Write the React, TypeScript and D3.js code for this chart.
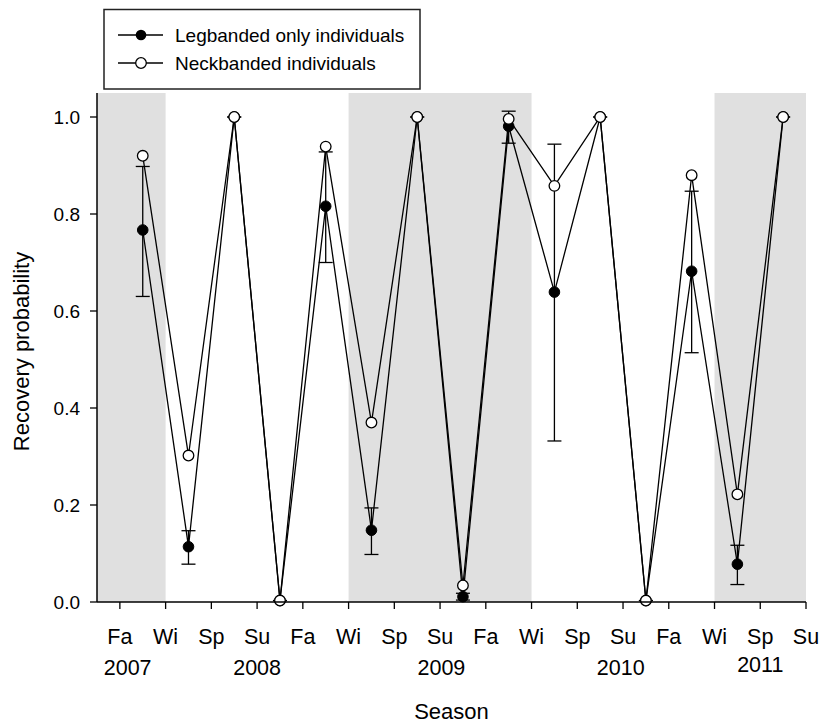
import React from "react";
import * as d3 from "d3";

const seasonLabels = ["Fa", "Wi", "Sp", "Su", "Fa", "Wi", "Sp", "Su", "Fa", "Wi", "Sp", "Su", "Fa", "Wi", "Sp", "Su"];
const yearLabels = ["2007", "2008", "2009", "2010", "2011"];
const yearPositions = [1.17, 4.0, 8.03, 11.95, 15.0];
const yearOffsets = [0, 0, 0, 0, -3];
const shadedBands: [number, number][] = [[0.5, 2], [6, 10], [14, 16]];

const pointX = [1.5, 2.5, 3.5, 4.5, 5.5, 6.5, 7.5, 8.5, 9.5, 10.5, 11.5, 12.5, 13.5, 14.5, 15.5];
const legbanded = [0.767, 0.114, 1.0, 0.003, 0.816, 0.148, 1.0, 0.011, 0.981, 0.639, 1.0, 0.003, 0.682, 0.078, 1.0];
const legLower = [0.63, 0.078, 1.0, 0.003, 0.70, 0.098, 1.0, 0.004, 0.946, 0.332, 1.0, 0.003, 0.514, 0.036, 1.0];
const legUpper = [0.898, 0.147, 1.0, 0.003, 0.928, 0.194, 1.0, 0.018, 1.012, 0.944, 1.0, 0.003, 0.847, 0.117, 1.0];
const neckbanded = [0.92, 0.302, 1.0, 0.003, 0.939, 0.37, 1.0, 0.034, 0.996, 0.858, 1.0, 0.003, 0.88, 0.222, 1.0];
const yTicks = [0, 0.2, 0.4, 0.6, 0.8, 1.0];

const FONT = "'Liberation Sans', Arial, Helvetica, sans-serif";

export default function App() {
  const left = 97, right = 806, top = 93, bottom = 602;
  const x = d3.scaleLinear().domain([0.5, 16]).range([left, right]);
  const y = d3.scaleLinear().domain([0, 1]).range([602, 117]);
  const yTop = y.invert(top);

  const line = d3.line<number>().x((_, i) => x(pointX[i])).y((d) => y(d));
  const capW = 7;
  const r = 5.3;

  return (
    <svg width={824} height={725} style={{ position: "absolute", left: 0, top: 0, background: "#fff" }} fontFamily={FONT}>
      {shadedBands.map(([a, b], i) => (
        <rect key={i} x={x(a)} y={y(yTop)} width={x(b) - x(a)} height={y(0) - y(yTop)} fill="#e0e0e0" />
      ))}

      {/* lines */}
      <path d={line(legbanded) || ""} fill="none" stroke="#000" strokeWidth={1.3} />
      <path d={line(neckbanded) || ""} fill="none" stroke="#000" strokeWidth={1.3} />

      {/* error bars */}
      {pointX.map((px, i) => (
        <g key={i} stroke="#000" strokeWidth={1.3}>
          <line x1={x(px)} x2={x(px)} y1={y(legLower[i])} y2={y(legUpper[i])} />
          <line x1={x(px) - capW} x2={x(px) + capW} y1={y(legLower[i])} y2={y(legLower[i])} />
          <line x1={x(px) - capW} x2={x(px) + capW} y1={y(legUpper[i])} y2={y(legUpper[i])} />
        </g>
      ))}

      {legbanded.map((v, i) => (
        <circle key={i} cx={x(pointX[i])} cy={y(v)} r={r} fill="#000" stroke="#000" strokeWidth={1} />
      ))}
      {neckbanded.map((v, i) => (
        <circle key={i} cx={x(pointX[i])} cy={y(v)} r={r} fill="#fff" stroke="#000" strokeWidth={1.3} />
      ))}

      {/* axes */}
      <line x1={left} x2={left} y1={top} y2={bottom} stroke="#000" strokeWidth={1.5} />
      <line x1={left} x2={right} y1={bottom} y2={bottom} stroke="#000" strokeWidth={1.5} />
      {yTicks.map((t) => (
        <g key={t}>
          <line x1={left - 7} x2={left} y1={y(t)} y2={y(t)} stroke="#000" strokeWidth={1.3} />
          <text x={80} y={y(t)} dy="0.35em" textAnchor="end" fontSize={19}>{d3.format(".1f")(t)}</text>
        </g>
      ))}
      {seasonLabels.map((s, i) => (
        <g key={i}>
          <line x1={x(i + 1)} x2={x(i + 1)} y1={bottom} y2={bottom + 7} stroke="#000" strokeWidth={1.3} />
          <text x={x(i + 1)} y={644} textAnchor="middle" fontSize={21.5}>{s}</text>
        </g>
      ))}
      {yearLabels.map((s, i) => (
        <text key={s} x={x(yearPositions[i])} y={675 + yearOffsets[i]} textAnchor="middle" fontSize={21.5}>{s}</text>
      ))}

      <text x={(left + right) / 2} y={719} textAnchor="middle" fontSize={22}>Season</text>
      <text transform={`translate(29, ${(top + bottom) / 2 + 4}) rotate(-90)`} textAnchor="middle" fontSize={22}>Recovery probability</text>

      {/* legend */}
      <rect x={104} y={9.5} width={316} height={79.5} fill="#fff" stroke="#222" strokeWidth={1.5} />
      <line x1={118} x2={163} y1={35} y2={35} stroke="#000" strokeWidth={1.3} />
      <circle cx={141} cy={35} r={r} fill="#000" />
      <text x={175} y={42} fontSize={19}>Legbanded only individuals</text>
      <line x1={118} x2={163} y1={63} y2={63} stroke="#000" strokeWidth={1.3} />
      <circle cx={141} cy={63} r={r} fill="#fff" stroke="#000" strokeWidth={1.3} />
      <text x={175} y={70} fontSize={19}>Neckbanded individuals</text>
    </svg>
  );
}
